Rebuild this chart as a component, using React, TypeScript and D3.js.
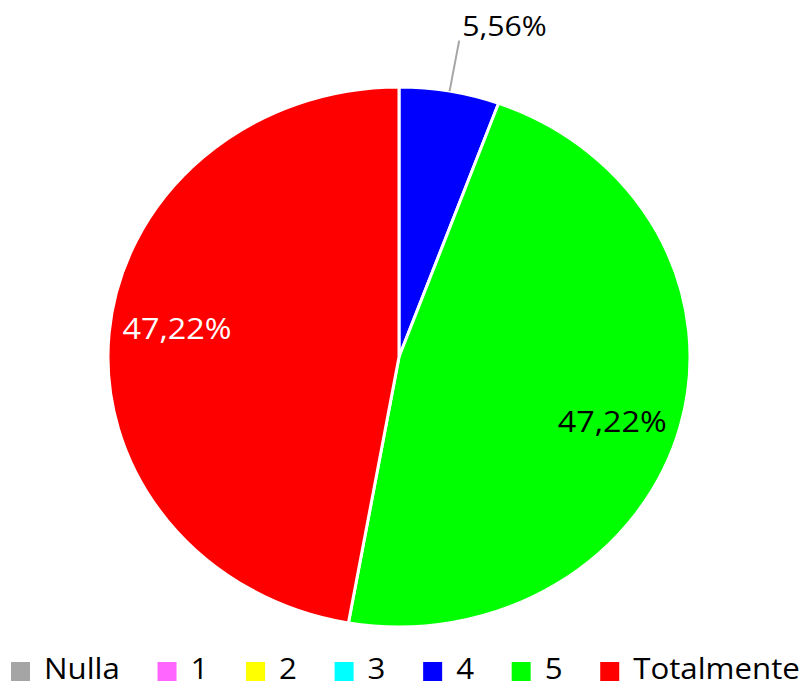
import React, { useEffect, useRef } from "react";
import * as d3 from "d3";

const categories = ["Nulla", "1", "2", "3", "4", "5", "Totalmente"];
const shares = [0, 0, 0, 0, 5.56, 47.22, 47.22];
const colors = ["#A5A5A5", "#FF66FF", "#FFFF00", "#00FFFF", "#0000FF", "#00FF00", "#FF0000"];
const labelColors = ["#000", "#000", "#000", "#000", "#000", "#000", "#fff"];

const W = 803, H = 688;

export default function App() {
    const ref = useRef<SVGSVGElement>(null);

    useEffect(() => {
        const svg = d3.select(ref.current);
        svg.selectAll("*").remove();

        const cx = 399, cy = 357, ry = 270, rx = 291;
        const sx = rx / ry; // the original is stretched a little horizontally

        const pie = d3.pie<number>().sort(null).value(d => d);
        const arcs = pie(shares).map((a, i) => ({ ...a, i }));
        const arc = d3.arc<any>().innerRadius(0).outerRadius(ry);

        // slices (drawn as a circle, then stretched into the ellipse)
        const g = svg.append("g").attr("transform", `translate(${cx}, ${cy}) scale(${sx}, 1)`);
        g.selectAll("path")
            .data(arcs.filter(d => d.value > 0))
            .join("path")
            .attr("d", arc)
            .attr("fill", d => colors[d.i])
            .attr("stroke", "#fff")
            .attr("stroke-width", 3)
            .attr("vector-effect", "non-scaling-stroke");

        const fmt = (v: number) => v.toFixed(2).replace(".", ",") + "%";
        const shift = 0.05; // labels sit slightly clockwise of the slice middle
        const inner = d3.arc<any>().innerRadius(ry * 0.77).outerRadius(ry * 0.77);
        const edge = d3.arc<any>().innerRadius(ry).outerRadius(ry);
        const outer = d3.arc<any>().innerRadius(ry * 1.19).outerRadius(ry * 1.19);

        const labels = svg.append("g").attr("transform", `translate(${cx}, ${cy})`);
        arcs.filter(d => d.value > 0).forEach(d => {
            if (d.value < 10) {
                const [x1, y1] = edge.centroid(d);
                const [x2, y2] = outer.centroid(d);
                labels.append("line")
                    .attr("x1", x1 * sx).attr("y1", y1)
                    .attr("x2", x2 * sx).attr("y2", y2)
                    .attr("stroke", "#A6A6A6").attr("stroke-width", 2);
                labels.append("text")
                    .attr("transform", `translate(${x2 * sx + 3}, ${y2 - 5}) scale(${sx}, 1)`)
                    .attr("font-family", "'Open Sans', sans-serif")
                    .attr("font-size", 28)
                    .attr("fill", "#000")
                    .text(fmt(d.value));
            } else {
                const [x, y] = inner.centroid({ startAngle: d.startAngle + shift, endAngle: d.endAngle + shift });
                labels.append("text")
                    .attr("transform", `translate(${x * sx}, ${y}) scale(${sx}, 1)`)
                    .attr("dy", "0.36em")
                    .attr("text-anchor", "middle")
                    .attr("font-family", "'Open Sans', sans-serif")
                    .attr("font-size", 30)
                    .attr("fill", labelColors[d.i])
                    .text(fmt(d.value));
            }
        });

        // legend
        const legend = svg.append("g");
        const items = legend.selectAll("g").data(categories).join("g");
        items.append("rect")
            .attr("width", 19).attr("height", 19)
            .attr("y", 662)
            .attr("fill", (_, i) => colors[i]);
        items.append("text")
            .attr("font-family", "'Open Sans', sans-serif")
            .attr("font-size", 29)
            .attr("fill", "#000")
            .text(d => d);

        const widths: number[] = [];
        items.select("text").each(function () { widths.push((this as SVGTextElement).getComputedTextLength() * sx); });
        const left = 11, right = 800, box = 19, pad = 14;
        const used = d3.sum(widths) + categories.length * (box + pad);
        const gap = (right - left - used) / (categories.length - 1);
        let x = left;
        items.each(function (_, i) {
            d3.select(this).attr("transform", `translate(${x}, 0)`);
            d3.select(this).select("text").attr("transform", `translate(${box + pad}, 679) scale(${sx}, 1)`);
            x += box + pad + widths[i] + gap;
        });
    }, []);

    return (
        <svg ref={ref} width={W} height={H} style={{ position: "absolute", left: 0, top: 0, background: "#fff" }}></svg>
    );
}
